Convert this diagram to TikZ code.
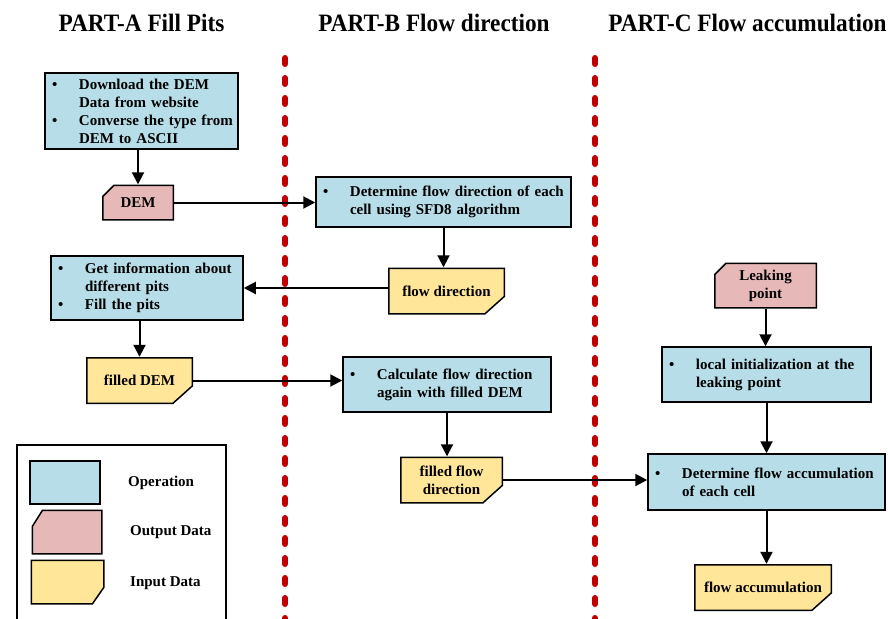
\documentclass[tikz,border=0pt]{standalone}
\usepackage{fontspec}
\setmainfont{Liberation Serif}
\newfontfamily\titlefont[FakeStretch=0.93]{Liberation Serif}
\usetikzlibrary{arrows.meta}

\definecolor{opblue}{RGB}{183,222,232}
\definecolor{outpink}{RGB}{230,185,184}
\definecolor{inyellow}{RGB}{255,230,153}
\definecolor{divred}{RGB}{192,0,0}

% bullet and hanging indent for the operation boxes
\newcommand{\bl}{\hspace*{2pt}\makebox[27pt][l]{\textbullet}}
\newcommand{\ind}{\hspace*{29pt}}

\tikzset{
  opbox/.style={draw, line width=1.5pt, fill=opblue, inner xsep=5pt, inner ysep=0pt, align=left},
  % data boxes with one cut corner (drawn inside the node rectangle)
  cutnw/.style 2 args={path picture={\filldraw[line width=1.5pt, fill=outpink]
    ([xshift=#1, yshift=-0.75pt]path picture bounding box.north west)
    -- ([xshift=-0.75pt, yshift=-0.75pt]path picture bounding box.north east)
    -- ([xshift=-0.75pt, yshift=0.75pt]path picture bounding box.south east)
    -- ([xshift=0.75pt, yshift=0.75pt]path picture bounding box.south west)
    -- ([xshift=0.75pt, yshift=-#2]path picture bounding box.north west) -- cycle;}},
  cutse/.style 2 args={path picture={\filldraw[line width=1.5pt, fill=inyellow]
    ([xshift=0.75pt, yshift=-0.75pt]path picture bounding box.north west)
    -- ([xshift=-0.75pt, yshift=-0.75pt]path picture bounding box.north east)
    -- ([xshift=-0.75pt, yshift=#2]path picture bounding box.south east)
    -- ([xshift=-#1, yshift=0.75pt]path picture bounding box.south east)
    -- ([xshift=0.75pt, yshift=0.75pt]path picture bounding box.south west) -- cycle;}},
  outdata/.style={rectangle, inner sep=2pt, align=center, cutnw={12pt}{12pt}},
  indata/.style={rectangle, inner sep=2pt, align=center, cutse={20pt}{18pt}},
  flow/.style={-{Triangle[length=12pt,width=12pt]}, line width=2pt},
  divider/.style={divred, line width=6pt, line cap=round, dash pattern=on 6pt off 14pt},
  title/.style={font=\titlefont\fontsize{25}{30}\selectfont\bfseries, anchor=base}
}

\begin{document}
\begin{tikzpicture}[x=1pt, y=-1pt, every node/.append style={font=\fontsize{15}{18}\selectfont\bfseries}]
  \useasboundingbox (0,0) rectangle (888,618);

  % Titles
  \node[title] (ta) at (141.5,32) {PART-A Fill Pits};
  \node[title] (tb) at (434,32) {PART-B Flow direction};
  \node[title] (tc) at (747.5,32) {PART-C Flow accumulation};

  % Dividers
  \draw[divider] (285,58) -- (285,625);
  \draw[divider] (595,58) -- (595,625);

  % PART-A
  \node[opbox, text width=183pt, minimum height=76pt] (dl) at (141.5,111)
    {\bl Download the DEM\\ \ind Data from website\\ \bl Converse the type from\\ \ind DEM to ASCII};
  \node[outdata, minimum width=72pt, minimum height=36pt] (dem) at (138,202.5) {DEM};
  \node[opbox, text width=182pt, minimum height=64pt] (gi) at (147,288)
    {\bl Get information about\\ \ind different pits\\ \bl Fill the pits};
  \node[indata, minimum width=107pt, minimum height=47pt] (fdem) at (139.5,380.5) {filled DEM};

  % PART-B
  \node[opbox, text width=245pt, minimum height=50pt] (sfd) at (443.5,202)
    {\bl Determine flow direction of each\\ \ind cell using SFD8 algorithm};
  \node[indata, minimum width=117pt, minimum height=47pt] (fdir) at (446.5,291) {flow direction};
  \node[opbox, text width=198pt, minimum height=55pt] (calc) at (447,384.5)
    {\bl Calculate flow direction\\ \ind again with filled DEM};
  \node[indata, minimum width=103pt, minimum height=47pt] (ffdir) at (451.5,480) {filled flow\\direction};

  % PART-C
  \node[outdata, minimum width=103pt, minimum height=46pt] (leak) at (765.5,285.5) {Leaking\\point};
  \node[opbox, text width=199pt, minimum height=55pt] (init) at (766.5,374.5)
    {\bl local initialization at the\\ \ind leaking point};
  \node[opbox, text width=227pt, minimum height=56pt] (acc) at (766.5,482)
    {\bl Determine flow accumulation\\ \ind of each cell};
  \node[indata, minimum width=138pt, minimum height=47pt] (facc) at (763,587.5) {flow accumulation};

  % Connectors
  \draw[flow] (dl.south -| dem.north) -- (dem.north);
  \draw[flow] (dem.east) -- (dem.east -| sfd.west);
  \draw[flow] (sfd.south) -- (sfd.south |- fdir.north);
  \draw[flow] (fdir.west |- gi.east) -- (gi.east);
  \draw[flow] (gi.south -| fdem.north) -- (fdem.north);
  \draw[flow] (fdem.east) -- (fdem.east -| calc.west);
  \draw[flow] (calc.south) -- (calc.south |- ffdir.north);
  \draw[flow] (ffdir.east) -- (ffdir.east -| acc.west);
  \draw[flow] (leak.south) -- (leak.south |- init.north);
  \draw[flow] (init.south) -- (init.south |- acc.north);
  \draw[flow] (acc.south) -- (acc.south |- facc.north);

  % Legend
  \draw[line width=1.5pt] (17,445) rectangle (226,625);
  \node[opbox, minimum width=70pt, minimum height=43pt] (keyop) at (65,482.5) {};
  \node[rectangle, minimum width=71pt, minimum height=45pt, cutnw={11pt}{17pt}] (keyout) at (67,532) {};
  \node[rectangle, minimum width=74pt, minimum height=45pt, cutse={12pt}{17pt}] (keyin) at (67.5,582) {};
  \node[anchor=west, inner sep=0pt] (oplab) at (128,483) {Operation};
  \node[anchor=west, inner sep=0pt] (outlab) at (130,532) {Output Data};
  \node[anchor=west, inner sep=0pt] (inlab) at (130,583) {Input Data};
\end{tikzpicture}
\end{document}
